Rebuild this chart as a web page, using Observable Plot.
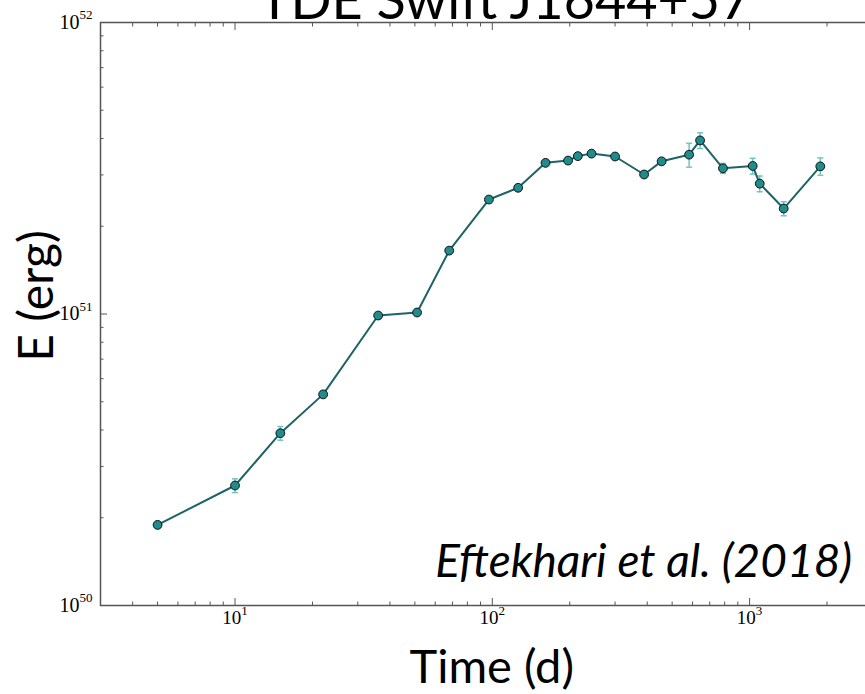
<!DOCTYPE html>
<html>
<head>
<meta charset="utf-8">
<script src="https://cdn.jsdelivr.net/npm/d3@7"></script>
<script src="https://cdn.jsdelivr.net/npm/@observablehq/plot@0.6"></script>
<style>
  body { margin: 0; background: #fff; overflow: hidden; }
  #wrap { position: relative; width: 865px; height: 694px; overflow: hidden; background: #fff; }
  #title { position: absolute; left: 0; width: 1010px; top: -28px; text-align: center;
           font-family: Lato, "Open Sans", sans-serif; font-size: 54px; line-height: 54px; color: #000; white-space: nowrap; }
  #chart { position: absolute; left: 0; top: 0; }
</style>
</head>
<body>
<div id="wrap">
  <div id="title">TDE Swift J1644+57</div>
  <div id="chart"></div>
</div>
<script>
// Time since discovery (days)
const days = [5, 10, 15, 22, 36, 51, 68, 97, 126, 161, 197, 215, 243, 300, 389, 455, 582, 642, 788, 1028, 1095, 1357, 1883];
// Energy (erg)
const energy = [1.89e50, 2.58e50, 3.90e50, 5.30e50, 9.88e50, 1.012e51, 1.65e51, 2.47e51, 2.71e51, 3.30e51, 3.36e51,
                3.48e51, 3.55e51, 3.47e51, 3.01e51, 3.34e51, 3.52e51, 3.94e51, 3.16e51, 3.22e51, 2.80e51, 2.30e51, 3.21e51];
// Energy uncertainty (erg)
const energyErr = [0.05e50, 0.14e50, 0.21e50, 0.12e50, 0.23e50, 0.23e50, 0.39e50, 0.58e50, 0.64e50, 0.78e50, 0.8e50,
                   0.8e50, 0.8e50, 0.8e50, 0.7e50, 0.8e50, 3.3e50, 2.45e50, 1.24e50, 2.0e50, 1.74e50, 1.27e50, 2.2e50];

const xMajorTicks = [10, 100, 1000];
const xMinorTicks = [4, 5, 6, 7, 8, 9, 20, 30, 40, 50, 60, 70, 80, 90, 200, 300, 400, 500, 600, 700, 800, 900, 2000, 3000];
const yMajorTicks = [1e50, 1e51, 1e52];
const yMinorTicks = [2e50, 3e50, 4e50, 5e50, 6e50, 7e50, 8e50, 9e50, 2e51, 3e51, 4e51, 5e51, 6e51, 7e51, 8e51, 9e51];

const xLabel = "Time (d)";
const yLabel = "E (erg)";
const note = "Eftekhari et al. (2018)";

const table = days.map((t, i) => ({t, E: energy[i], err: energyErr[i]}));

const capSymbol = { draw(ctx) { ctx.moveTo(-3, 0); ctx.lineTo(3, 0); } };
const supX = d => "10^" + Math.round(Math.log10(d)) + "x";
const supY = d => "10^" + Math.round(Math.log10(d)) + "y";
const axisColor = "#555";
const none = () => "";
const sans = "Lato, 'Open Sans', sans-serif";
const serif = "'Liberation Serif', 'DejaVu Serif', serif";

const chart = Plot.plot({
  width: 865,
  height: 694,
  marginLeft: 100,
  marginTop: 22,
  marginBottom: 89,
  marginRight: -17.5,
  x: { type: "log", domain: [3, 3300] },
  y: { type: "log", domain: [1e50, 1e52] },
  marks: [
    // inward ticks on all four sides
    Plot.axisX({ anchor: "bottom", ticks: xMajorTicks, tickSize: -7, tickFormat: none, label: null, stroke: axisColor }),
    Plot.axisX({ anchor: "bottom", ticks: xMinorTicks, tickSize: -3.5, tickFormat: none, label: null, stroke: axisColor }),
    Plot.axisX({ anchor: "top", ticks: xMajorTicks, tickSize: -7, tickFormat: none, label: null, stroke: axisColor }),
    Plot.axisX({ anchor: "top", ticks: xMinorTicks, tickSize: -3.5, tickFormat: none, label: null, stroke: axisColor }),
    Plot.axisY({ anchor: "left", ticks: yMajorTicks, tickSize: -7, tickFormat: none, label: null, stroke: axisColor }),
    Plot.axisY({ anchor: "left", ticks: yMinorTicks, tickSize: -3.5, tickFormat: none, label: null, stroke: axisColor }),
    Plot.axisY({ anchor: "right", ticks: yMajorTicks, tickSize: -7, tickFormat: none, label: null, stroke: axisColor }),
    Plot.axisY({ anchor: "right", ticks: yMinorTicks, tickSize: -3.5, tickFormat: none, label: null, stroke: axisColor }),
    // tick labels
    Plot.axisX({ anchor: "bottom", ticks: xMajorTicks, tickSize: 0, tickPadding: 5, tickFormat: supX, label: null,
                 fontSize: 19, fontFamily: serif, fill: "#000" }),
    Plot.axisY({ anchor: "left", ticks: yMajorTicks, tickSize: 0, tickPadding: 8, tickFormat: supY, label: null,
                 fontSize: 20, fontFamily: serif, fill: "#000" }),
    Plot.frame({ stroke: axisColor, strokeWidth: 1.5 }),
    // error bars
    Plot.ruleX(table, { x: "t", y1: d => d.E - d.err, y2: d => d.E + d.err, stroke: "#72c3c3", strokeWidth: 1.5 }),
    Plot.dot(table, { x: "t", y: d => d.E + d.err, symbol: capSymbol, fill: "none", stroke: "#72c3c3", strokeWidth: 1.5 }),
    Plot.dot(table, { x: "t", y: d => d.E - d.err, symbol: capSymbol, fill: "none", stroke: "#72c3c3", strokeWidth: 1.5 }),
    // data
    Plot.line(table, { x: "t", y: "E", stroke: "#1e6365", strokeWidth: 2 }),
    Plot.dot(table, { x: "t", y: "E", r: 4.4, fill: "#1f8d8d", stroke: "#111", strokeWidth: 1 }),
    // axis titles and annotation
    Plot.text([xLabel], { frameAnchor: "bottom", lineAnchor: "middle", dy: 62, fontSize: 47, fontFamily: sans, fill: "#000" }),
    Plot.text([yLabel], { frameAnchor: "left", textAnchor: "middle", lineAnchor: "middle", rotate: -90, dx: -63, dy: -18,
                          fontSize: 48, fontFamily: sans, fill: "#000" }),
    Plot.text([note], { frameAnchor: "bottom", lineAnchor: "middle", dx: 152, dy: -43, fontSize: 46, fontStyle: "italic",
                        fontFamily: sans, fill: "#000" })
  ]
});

// render "10^k" tick labels with a real superscript
d3.select(chart).selectAll("text").each(function () {
  const m = /^10\^(\d+)([xy])$/.exec(this.textContent);
  if (!m) return;
  const size = m[2] === "y" ? 20 : 19;
  const t = d3.select(this);
  t.text(null).style("font-size", size + "px").style("font-family", serif);
  t.append("tspan").style("font-size", size + "px").text("10");
  t.append("tspan").attr("dy", -0.48 * size).style("font-size", Math.round(size * 0.66) + "px").text(m[1]);
});

document.getElementById("chart").appendChild(chart);
</script>
</body>
</html>
